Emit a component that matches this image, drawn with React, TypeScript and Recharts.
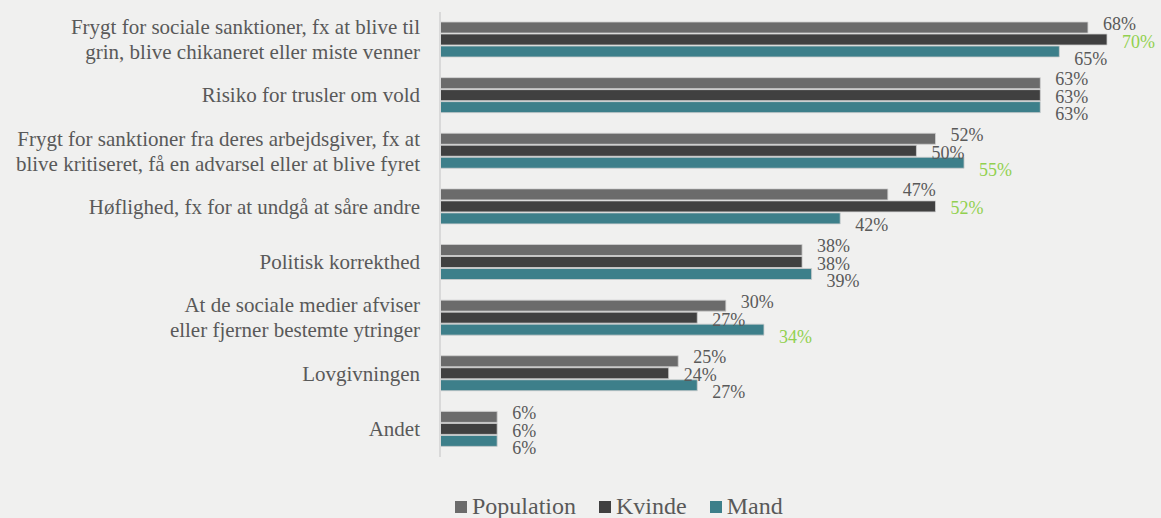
import { Bar, BarChart, LabelList, XAxis, YAxis } from 'recharts';

const categories = [
  ['Frygt for sociale sanktioner, fx at blive til', 'grin, blive chikaneret eller miste venner'],
  ['Risiko for trusler om vold'],
  ['Frygt for sanktioner fra deres arbejdsgiver, fx at', 'blive kritiseret, få en advarsel eller at blive fyret'],
  ['Høflighed, fx for at undgå at såre andre'],
  ['Politisk korrekthed'],
  ['At de sociale medier afviser', 'eller fjerner bestemte ytringer'],
  ['Lovgivningen'],
  ['Andet'],
];

const population = [68, 63, 52, 47, 38, 30, 25, 6];
const kvinde = [70, 63, 50, 52, 38, 27, 24, 6];
const mand = [65, 63, 55, 42, 39, 34, 27, 6];

// green label = marked difference
const kvindeMarked = [true, false, false, true, false, false, false, false];
const mandMarked = [false, false, true, false, false, true, false, false];

const data = categories.map((lines, i) => ({
  name: lines.join(' '),
  population: population[i],
  kvinde: kvinde[i],
  mand: mand[i],
}));

const FONT = 'Liberation Serif, DejaVu Serif, serif';
const TEXT = '#595959';
const GREEN = '#92d050';

const series = [
  { key: 'population', label: 'Population', color: '#6b6b6b', dy: -4, marked: null as boolean[] | null },
  { key: 'kvinde', label: 'Kvinde', color: '#404040', dy: 2, marked: kvindeMarked },
  { key: 'mand', label: 'Mand', color: '#3d7f8a', dy: 7, marked: mandMarked },
];

const CategoryTick = (props: any) => {
  const { x, y, payload } = props;
  const lines = categories[payload.index] || [payload.value];
  const lh = 25;
  const start = -((lines.length - 1) * lh) / 2;
  return (
    <text
      x={x - 12}
      y={y}
      textAnchor="end"
      fill={TEXT}
      fontFamily={FONT}
      fontSize={21}
    >
      {lines.map((l: string, i: number) => (
        <tspan key={i} x={x - 12} dy={i === 0 ? start + 7 : lh}>
          {l}
        </tspan>
      ))}
    </text>
  );
};

const makeLabel = (dy: number, marked: boolean[] | null) => (props: any) => {
  const { x, y, width, height, value, index } = props;
  const green = marked ? marked[index] : false;
  return (
    <text
      x={x + width + 15}
      y={y + height / 2 + dy + 6}
      fill={green ? GREEN : TEXT}
      fontFamily={FONT}
      fontSize={18}
    >
      {value}%
    </text>
  );
};

export default function App() {
  return (
    <div style={{ position: 'absolute', left: 0, top: 0, width: 1161, height: 518, background: '#f0f0ef', overflow: 'hidden' }}>
      <BarChart
        width={1161}
        height={518}
        data={data}
        layout="vertical"
        margin={{ top: 12, right: 54, left: 0, bottom: 61 }}
        barSize={11}
        barGap={1}
      >
        <XAxis type="number" domain={[0, 70]} hide />
        <YAxis
          type="category"
          dataKey="name"
          width={440}
          tick={<CategoryTick />}
          tickLine={false}
          axisLine={{ stroke: '#d9d9d9', strokeWidth: 2 }}
          interval={0}
        />
        {series.map((s) => (
          <Bar
            key={s.key}
            dataKey={s.key}
            name={s.label}
            fill={s.color}
            stroke="#cfcfcf"
            strokeWidth={0.8}
            isAnimationActive={false}
          >
            <LabelList dataKey={s.key} content={makeLabel(s.dy, s.marked)} />
          </Bar>
        ))}
      </BarChart>
      <div
        style={{
          position: 'absolute',
          left: 455,
          top: 493,
          display: 'flex',
          alignItems: 'center',
          fontFamily: FONT,
          fontSize: 24,
          color: TEXT,
          whiteSpace: 'nowrap',
        }}
      >
        {series.map((s) => (
          <div key={s.key} style={{ display: 'flex', alignItems: 'center', marginRight: 23 }}>
            <span style={{ width: 12, height: 12, background: s.color, display: 'inline-block', marginRight: 5 }} />
            <span>{s.label}</span>
          </div>
        ))}
      </div>
    </div>
  );
}
